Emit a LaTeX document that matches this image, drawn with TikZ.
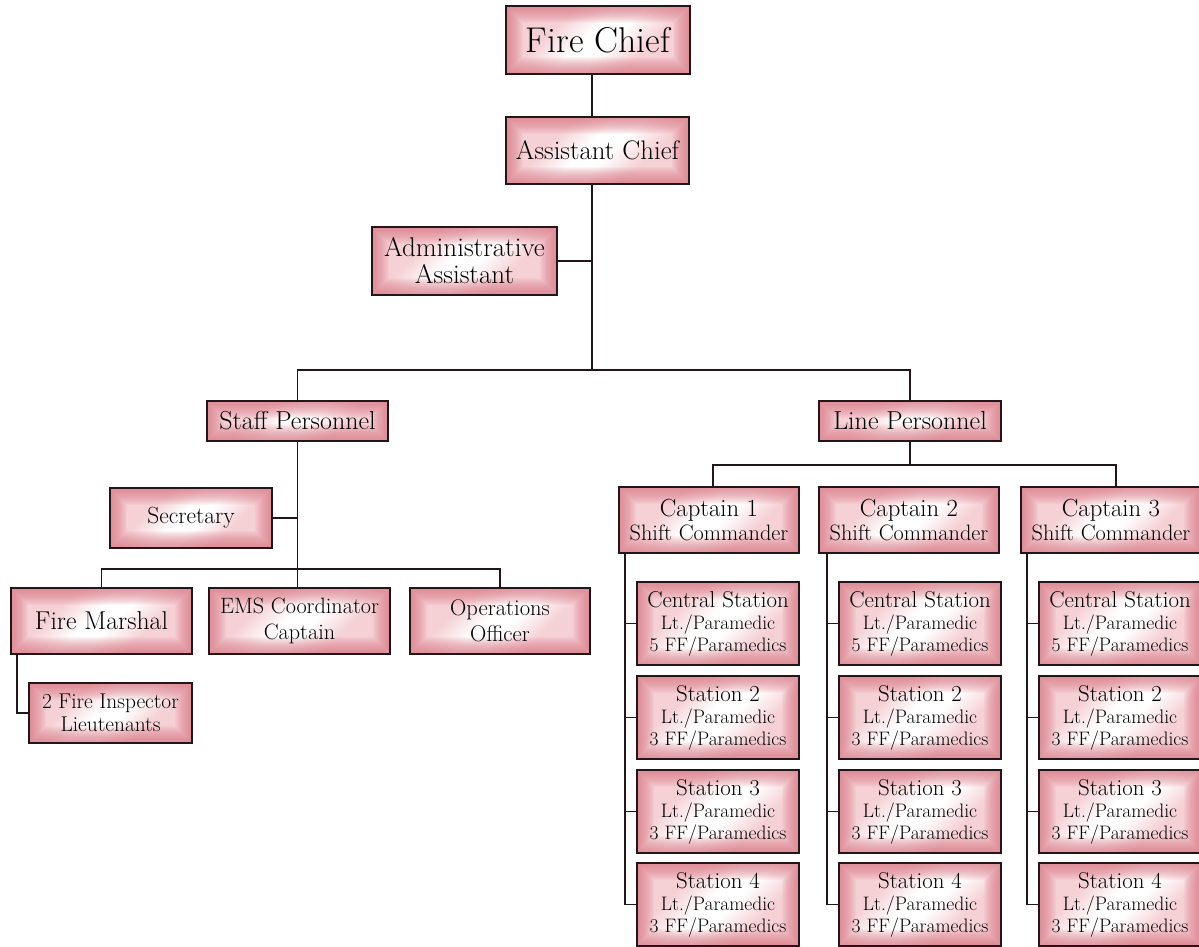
\documentclass[tikz,border=0pt]{standalone}
\usepackage{fontspec}
\setmainfont{Latin Modern Roman}
\usetikzlibrary{calc}
\definecolor{pkd}{RGB}{220,122,135}
\definecolor{pkl}{RGB}{245,208,213}
\definecolor{bdr}{RGB}{35,22,24}
\pgfdeclarehorizontalshading{boxsh}{100bp}{color(0bp)=(pkl); color(34bp)=(pkl); color(46bp)=(white); color(54bp)=(white); color(66bp)=(pkl); color(100bp)=(pkl)}
\tikzset{
  orgbox/.style={draw=bdr, line width=1.8pt, inner sep=0pt, align=center, text=black,
    path picture={
      \shade[shading=boxsh, shading angle=-45] (path picture bounding box.south west) rectangle (path picture bounding box.north east);
      \foreach \w in {2,4,...,34}{
        \draw[pkd, draw opacity=0.075, line width=\w pt] (path picture bounding box.south west) rectangle (path picture bounding box.north east);
      }
    }},
  conn/.style={draw=bdr, line width=1.5pt},
}
\begin{document}
\begin{tikzpicture}[x=1pt,y=-1pt]
\fill[white] (0,0) rectangle (1199,947);
\useasboundingbox (0,0) rectangle (1199,947);

% top
\node[orgbox, minimum width=184pt, minimum height=68pt, font=\fontsize{35.8}{38}\selectfont] (chief) at (598,40) {Fire Chief};
\node[orgbox, minimum width=183pt, minimum height=67pt, font=\fontsize{26.8}{29}\selectfont] (asst) at (597.5,150.5) {Assistant Chief};
\node[orgbox, minimum width=185pt, minimum height=68pt, font=\fontsize{27}{27}\selectfont] (admin) at (464.5,261) {Administrative\\Assistant};

\node[orgbox, minimum width=181pt, minimum height=40pt, font=\fontsize{26}{28}\selectfont] (staff) at (297.5,421) {Staff Personnel};
\node[orgbox, minimum width=182pt, minimum height=40pt, font=\fontsize{26}{28}\selectfont] (line) at (910,421) {Line Personnel};

% staff side
\node[orgbox, minimum width=162pt, minimum height=60pt, font=\fontsize{23.4}{26}\selectfont] (sec) at (191,518) {Secretary};
\node[orgbox, minimum width=181pt, minimum height=66pt, font=\fontsize{25.8}{28}\selectfont] (fm) at (101.5,621) {Fire Marshal};
\node[orgbox, minimum width=181pt, minimum height=66pt, font=\fontsize{22.2}{26}\selectfont] (ems) at (299.5,621) {EMS Coordinator\\Captain};
\node[orgbox, minimum width=180pt, minimum height=66pt, font=\fontsize{22.6}{26}\selectfont] (ops) at (500,621) {Operations\\Officer};
\node[orgbox, minimum width=163pt, minimum height=60pt, font=\fontsize{21.4}{23}\selectfont] (fi) at (110.5,713) {2 Fire Inspector\\Lieutenants};

% captains
\foreach \j/\cx in {1/709,2/909,3/1111}{
  \node[orgbox, minimum width=180pt, minimum height=66pt, font=\fontsize{22.3}{24}\selectfont] (cap\j) at (\cx,520)
    {{\fontsize{24.7}{24}\selectfont Captain \j}\\Shift Commander};
}
% stations
\foreach \j/\cx in {1/718,2/920,3/1120}{
  \foreach \k/\cy/\nm/\ff in {1/623.5/Central Station/5, 2/717.5/Station 2/3, 3/811.5/Station 3/3, 4/904.5/Station 4/3}{
    \node[orgbox, minimum width=162pt, minimum height=83pt, font=\fontsize{19.5}{22}\selectfont] (s\j\k) at (\cx,\cy)
      {{\fontsize{22.9}{22}\selectfont \nm}\\Lt./Paramedic\\\ff\ FF/Paramedics};
  }
}

% connectors
\coordinate (sp) at (592,370);
\draw[conn] (chief.south -| sp) -- (asst.north -| sp);
\draw[conn] (asst.south -| sp) -- (sp);
\draw[conn] (admin.east) -- (admin.east -| sp);
\draw[conn] (staff.north) |- (sp) -| (line.north);

\coordinate (b2) at (297.5,569);
\draw[conn] (staff.south) -- (staff.south |- ems.north);
\draw[conn] (sec.east) -- (sec.east -| staff.south);
\draw[conn] (fm.north) |- (b2) -| (ops.north);
\draw[conn] ([xshift=7pt]fm.south west) |- (fi.west);

\coordinate (b3) at (910,465);
\draw[conn] (line.south) -- (b3);
\draw[conn] ([xshift=4pt]cap1.north) |- (b3) -| ([xshift=5pt]cap3.north);

\foreach \j in {1,2,3}{
  \coordinate (c\j) at ($(s\j1.west)+(-11pt,0)$);
  \draw[conn] (cap\j.south -| c\j) -- (s\j4.west -| c\j) -- (s\j4.west);
  \foreach \k in {1,2,3}{
    \draw[conn] (s\j\k.west) -- (s\j\k.west -| c\j);
  }
}
\end{tikzpicture}
\end{document}
